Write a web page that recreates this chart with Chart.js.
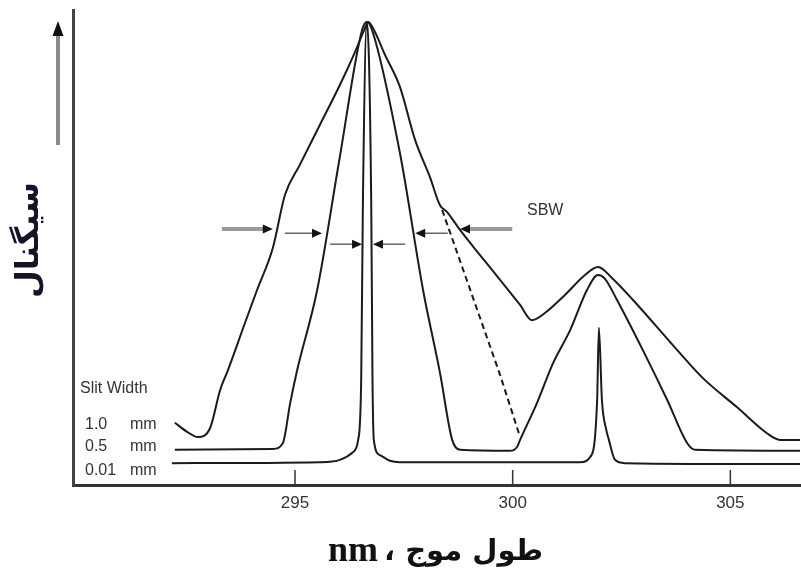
<!DOCTYPE html>
<html>
<head>
<meta charset="utf-8">
<script src="https://cdn.jsdelivr.net/npm/chart.js@4.4.1/dist/chart.umd.min.js"></script>
<style>
  html, body { margin: 0; padding: 0; background: #fff; }
</style>
</head>
<body>
<canvas id="spectrum" width="801" height="572"></canvas>
<script>
// wavelength (nm) / signal (arbitrary, 0-100)
const wl10 = [292.24, 292.52, 292.77, 293.05, 293.28, 293.46, 293.85, 294.13, 294.49, 294.77,
              295.11, 295.57, 296.03, 296.38, 296.59, 296.68, 296.79, 297.07, 297.41, 297.76,
              298.10, 298.33, 298.49, 298.79, 299.25, 299.71, 300.17, 300.44, 300.74, 301.20,
              301.66, 301.96, 302.28, 302.77, 303.78, 304.37, 305.15, 305.84, 306.14, 306.60];
const sig10 = [13.1, 11.2, 10.1, 12.0, 20.0, 24.2, 34.1, 41.1, 49.9, 61.1,
               67.4, 75.8, 84.2, 91.2, 95.8, 97.5, 96.2, 90.5, 83.8, 72.6,
               64.8, 58.9, 57.5, 53.7, 48.4, 43.2, 37.9, 34.7, 36.2, 40.0,
               44.2, 45.9, 43.6, 38.9, 28.4, 22.5, 16.4, 10.9, 9.5, 9.5];

const wl05 = [292.24, 294.49, 294.72, 294.89, 295.05, 295.51, 296.03, 296.54, 296.65, 296.77,
              297.41, 297.94, 298.33, 298.61, 298.79, 299.94, 300.10, 300.17, 300.56, 300.93,
              301.32, 301.71, 301.96, 302.12, 302.40, 302.99, 303.55, 304.01, 304.19, 306.60];
const sig05 = [7.4, 7.6, 8.8, 17.3, 24.2, 41.1, 69.1, 95.8, 97.5, 95.8,
               69.9, 41.1, 23.6, 9.5, 7.4, 7.2, 8.0, 9.5, 17.3, 25.7,
               32.6, 41.1, 44.2, 43.4, 38.9, 28.4, 17.9, 8.8, 7.4, 7.2];

const wl001 = [292.17, 295.57, 296.03, 296.33, 296.45, 296.52, 296.56, 296.65, 296.75, 296.78,
               296.81, 296.95, 297.18, 297.41, 301.55, 301.78, 301.94, 301.98, 302.05, 302.15,
               302.21, 302.35, 302.58, 306.60];
const sig001 = [4.6, 4.8, 5.3, 6.9, 9.5, 22.1, 60.0, 97.5, 60.0, 22.1,
                9.5, 6.3, 5.1, 4.8, 4.8, 5.9, 17.9, 33.1, 17.9, 11.6,
                9.5, 5.3, 4.6, 4.4];

// dashed continuation of the unresolved band
const dashWl = [298.38, 299.71, 300.17];
const dashSig = [57.9, 23.2, 10.1];

const xTicks = [295, 300, 305];
const slitLabels = ['1.0', '0.5', '0.01'];

// SBW arrows: [from, to, level]
const sbwArrows = [
  [293.32, 294.49, 53.9, true], [299.99, 298.79, 53.9, true],
  [294.77, 295.62, 53.0, false], [298.51, 297.76, 53.0, false],
  [295.80, 296.54, 50.7, false], [297.53, 296.79, 50.7, false]
];

const pts = (xs, ys) => xs.map((x, i) => ({ x: x, y: ys[i] }));

function arrowHead(ctx, x, y, dir) {
  ctx.beginPath();
  ctx.moveTo(x, y);
  ctx.lineTo(x - dir * 10, y - 4.5);
  ctx.lineTo(x - dir * 10, y + 4.5);
  ctx.closePath();
  ctx.fill();
}

const extras = {
  id: 'extras',
  afterDraw(chart) {
    const ctx = chart.ctx, a = chart.chartArea;
    const xs = chart.scales.x, ys = chart.scales.y;
    ctx.save();

    // inward tick marks
    ctx.strokeStyle = '#333';
    ctx.lineWidth = 1.5;
    xTicks.forEach(v => {
      const px = xs.getPixelForValue(v);
      ctx.beginPath();
      ctx.moveTo(px, a.bottom);
      ctx.lineTo(px, a.bottom - 15);
      ctx.stroke();
    });

    // SBW arrows
    sbwArrows.forEach(([f, t, lv, heavy]) => {
      const x1 = xs.getPixelForValue(f), x2 = xs.getPixelForValue(t);
      const y = ys.getPixelForValue(lv);
      const dir = x2 > x1 ? 1 : -1;
      ctx.strokeStyle = heavy ? '#9a9a9a' : '#666';
      ctx.lineWidth = heavy ? 4 : 1.5;
      ctx.beginPath();
      ctx.moveTo(x1, y);
      ctx.lineTo(x2 - dir * 8, y);
      ctx.stroke();
      ctx.fillStyle = '#111';
      arrowHead(ctx, x2, y, dir);
    });

    // signal arrow
    ctx.strokeStyle = '#8a8a8a';
    ctx.lineWidth = 4;
    ctx.beginPath();
    ctx.moveTo(58, 145);
    ctx.lineTo(58, 34);
    ctx.stroke();
    ctx.fillStyle = '#111';
    ctx.beginPath();
    ctx.moveTo(58, 21);
    ctx.lineTo(52.5, 36);
    ctx.lineTo(63.5, 36);
    ctx.closePath();
    ctx.fill();

    // labels
    ctx.fillStyle = '#333';
    ctx.font = '16px "Liberation Sans"';
    ctx.textBaseline = 'middle';
    ctx.textAlign = 'left';
    ctx.fillText('SBW', 527, 211);
    ctx.fillText('Slit Width', 80, 389);
    const rows = [425, 447, 471];
    slitLabels.forEach((s, i) => {
      ctx.fillText(s, 85, rows[i]);
      ctx.fillText('mm', 130, rows[i]);
    });

    // y title
    ctx.save();
    ctx.translate(30, 240);
    ctx.rotate(-Math.PI / 2);
    ctx.fillStyle = '#141428';
    ctx.font = 'bold 32px "DejaVu Sans"';
    ctx.textAlign = 'center';
    ctx.fillText('سیگنال', 0, 0);
    ctx.restore();

    // x title
    ctx.fillStyle = '#111';
    ctx.textBaseline = 'alphabetic';
    ctx.font = 'bold 36px "Liberation Serif"';
    ctx.textAlign = 'right';
    ctx.fillText('nm', 378, 561);
    ctx.font = 'bold 29px "DejaVu Sans"';
    ctx.direction = 'rtl';
    ctx.textAlign = 'right';
    ctx.fillText('طول موج ،', 543, 560);
    ctx.restore();
  }
};

const lineStyle = {
  borderColor: '#1b1b1b',
  borderWidth: 2,
  pointRadius: 0,
  fill: false,
  cubicInterpolationMode: 'monotone'
};

new Chart(document.getElementById('spectrum'), {
  type: 'line',
  data: {
    datasets: [
      Object.assign({ label: '1.0 mm', data: pts(wl10, sig10) }, lineStyle),
      Object.assign({ label: '0.5 mm', data: pts(wl05, sig05) }, lineStyle),
      Object.assign({ label: '0.01 mm', data: pts(wl001, sig001) }, lineStyle),
      Object.assign({ label: 'dash', data: pts(dashWl, dashSig) }, lineStyle, { borderDash: [6, 4], cubicInterpolationMode: 'default', tension: 0 })
    ]
  },
  options: {
    responsive: false,
    animation: false,
    layout: { padding: { left: 73, right: 1, top: 10, bottom: 0 } },
    plugins: { legend: { display: false }, tooltip: { enabled: false } },
    scales: {
      x: {
        type: 'linear',
        min: 289.9,
        max: 306.6,
        afterBuildTicks: s => { s.ticks = xTicks.map(v => ({ value: v })); },
        afterFit: s => { s.height = 87; },
        grid: { display: false, drawTicks: false },
        border: { display: true, color: '#333', width: 3 },
        ticks: { color: '#333', padding: 8, font: { family: 'Liberation Sans', size: 17 } }
      },
      y: {
        min: 0,
        max: 100,
        afterFit: s => { s.width = 0; },
        grid: { display: false, drawTicks: false },
        border: { display: true, color: '#444', width: 3 },
        ticks: { display: false }
      }
    }
  },
  plugins: [extras]
});
</script>
</body>
</html>
